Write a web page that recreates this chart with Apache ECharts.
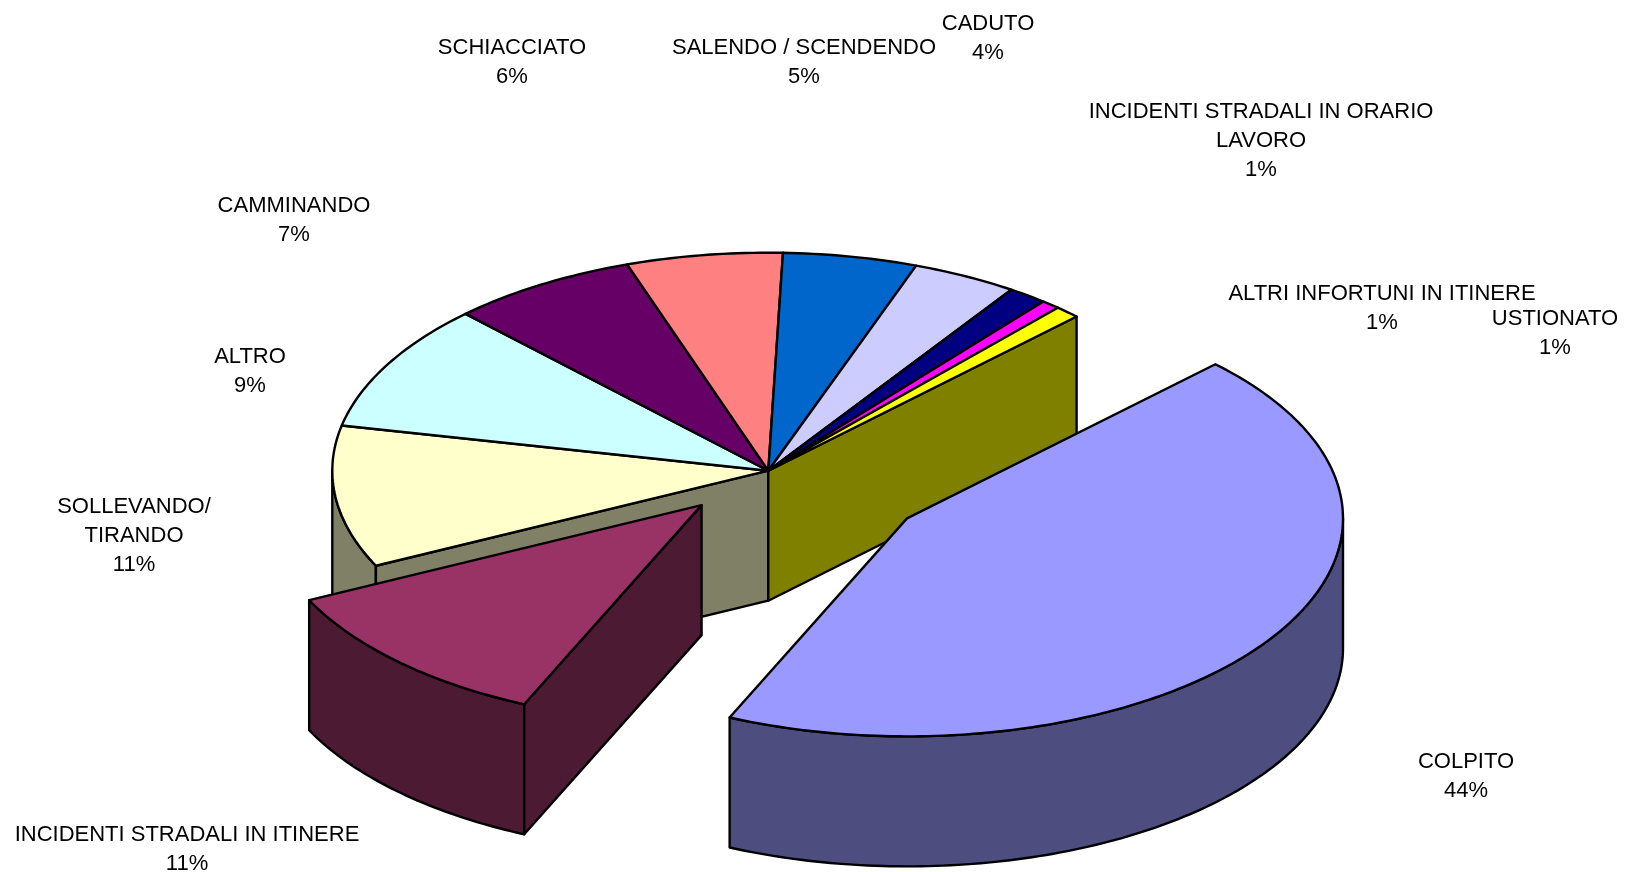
<!DOCTYPE html>
<html>
<head>
<meta charset="utf-8">
<style>
    html, body { margin: 0; padding: 0; background: #fff; }
    #pie3d { width: 1626px; height: 872px; }
</style>
<script src="https://cdn.jsdelivr.net/npm/echarts@6/dist/echarts.min.js"></script>
</head>
<body>
<div id="pie3d"></div>
<script>
// data, clockwise from the first slice
const categories = ['COLPITO', 'INCIDENTI STRADALI IN ITINERE', 'SOLLEVANDO/\nTIRANDO', 'ALTRO', 'CAMMINANDO',
    'SCHIACCIATO', 'SALENDO / SCENDENDO', 'CADUTO', 'INCIDENTI STRADALI IN ORARIO\nLAVORO',
    'ALTRI INFORTUNI IN ITINERE', 'USTIONATO'];
const shares = [44.15, 11.15, 10.5, 9.45, 6.97, 5.78, 4.97, 3.9, 1.46, 0.69, 0.94];
const explode = [0.386, 0.22, 0, 0, 0, 0, 0, 0, 0, 0, 0];

const colors = ['#9999FF', '#993366', '#FFFFCC', '#CCFFFF', '#660066', '#FF8080', '#0066CC', '#CCCCFF', '#000080', '#FF00FF', '#FFFF00'];
const shades = ['#4D4D80', '#4D1A33', '#808066', '#668080', '#330033', '#804040', '#003366', '#666680', '#000040', '#800080', '#808000'];

// label centres, placed by hand like in the original sheet
const labelPos = [[1466, 776], [187, 849], [134, 535.5], [250, 371.5], [294, 220.5], [512, 62.5], [804, 62.5], [988, 38.5], [1261, 140.5], [1382, 308.5], [1555, 333.5]];

const cx = 768.3, cy = 470.7, rx = 436, ry = 218, depth = 130;
const firstAngle = 45;

let total = shares.reduce((a, b) => a + b, 0);
let acc = firstAngle;
const rows = shares.map(function (v) {
    let start = acc;
    acc += v / total * 360;
    return [v, start, acc];
});

function rad(a) { return a * Math.PI / 180; }

function rim(ax, ay, a) {
    return [ax + rx * Math.sin(rad(a)), ay - ry * Math.cos(rad(a))];
}

function arc(ax, ay, a0, a1) {
    let pts = [];
    let n = Math.max(2, Math.ceil(Math.abs(a1 - a0)));
    for (let i = 0; i <= n; i++) {
        pts.push(rim(ax, ay, a0 + (a1 - a0) * i / n));
    }
    return pts;
}

function poly(points, fill, z2) {
    return {
        type: 'polygon',
        z2: z2,
        shape: { points: points },
        style: { fill: fill, stroke: '#000', lineWidth: 2.4, lineJoin: 'round' }
    };
}

function face(ax, ay, a, fill, z2) {
    let p = rim(ax, ay, a);
    return poly([[ax, ay], p, [p[0], p[1] + depth], [ax, ay + depth]], fill, z2);
}

function renderSlice(params, api) {
    let i = params.dataIndex;
    let a0 = api.value(1), a1 = api.value(2);
    let mid = (a0 + a1) / 2;
    let ax = cx + explode[i] * rx * Math.sin(rad(mid));
    let ay = cy - explode[i] * ry * Math.cos(rad(mid));
    let n = shares.length;
    // exploded slices sit above the rest of the pie
    let base = explode[i] > 0 ? (i === 0 ? 300 : 200) : 100;
    let kids = [];

    // outer wall, only the front half can be seen
    let w0 = Math.max(a0, 90), w1 = Math.min(a1, 270);
    if (w1 > w0) {
        let top = arc(ax, ay, w0, w1);
        let bottom = top.map(p => [p[0], p[1] + depth]).reverse();
        kids.push(poly(top.concat(bottom), shades[i], base));
    }
    // cut faces, where the slice or its neighbour has been pulled out
    if ((explode[i] > 0 || explode[(i + n - 1) % n] > 0) && -Math.sin(rad(a0)) > 0) {
        kids.push(face(ax, ay, a0, shades[i], base + 1));
    }
    if ((explode[i] > 0 || explode[(i + 1) % n] > 0) && Math.sin(rad(a1)) > 0) {
        kids.push(face(ax, ay, a1, shades[i], base + 1));
    }
    // top of the slice
    kids.push(poly([[ax, ay]].concat(arc(ax, ay, a0, a1)), colors[i], base + 20));

    kids.push({
        type: 'text',
        z2: 500,
        style: {
            x: labelPos[i][0],
            y: labelPos[i][1],
            text: categories[i] + '\n' + Math.round(api.value(0)) + '%',
            fill: '#000',
            font: '22px "Liberation Sans", Arial, sans-serif',
            lineHeight: 29,
            align: 'center',
            verticalAlign: 'middle'
        }
    });
    return { type: 'group', children: kids };
}

let pie3d = echarts.init(document.getElementById('pie3d'));

let option = {
    backgroundColor: '#fff',
    animation: false,
    series: [{
        type: 'custom',
        coordinateSystem: 'none',
        silent: true,
        renderItem: renderSlice,
        data: rows
    }]
};

pie3d.setOption(option);
</script>
</body>
</html>
